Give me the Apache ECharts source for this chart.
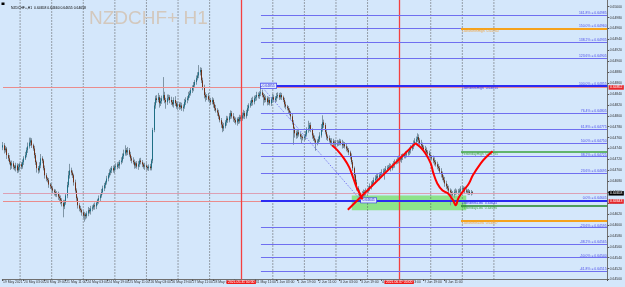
<!DOCTYPE html>
<html><head><meta charset="utf-8">
<script src="https://cdn.jsdelivr.net/npm/echarts/dist/echarts.min.js"></script>
<style>html,body{margin:0;padding:0;background:#d4e7fb;overflow:hidden}#c{width:625px;height:287px}</style>
</head><body><div id="c"></div>
<script>
// ---------------- DATA ----------------
const symbolTitle = 'NZDCHF+ H1';
const quoteHeader = 'NZDCHF+,H1  0.64658 0.64660 0.64655 0.64658';
const tradingDays = ['2021.05.19','2021.05.20','2021.05.21','2021.05.24','2021.05.25','2021.05.26','2021.05.27','2021.05.28',
  '2021.05.31','2021.06.01','2021.06.02','2021.06.03','2021.06.04','2021.06.07','2021.06.08','2021.06.09','2021.06.10',
  '2021.06.11','2021.06.14','2021.06.15'];
const firstHour = 11;
const monthNames = {'05':'May','06':'Jun'};
const priceBase = 0.64;           // closes are given in points (0.00001) above this base
const firstOpen = 0.64742;
const closePts = [
 746,737,740,728,722,715,709,713, 707,704,709,700,706,711,707, 715,722,728,737,744,751,755,746,
 740,728,715,704,700,709,722, 718,704,691,685,682,674,671,667, 663,660,656,658,652,649,645,
 640,634,641,654,673,691,700,696, 691,678,663,649,636,630,627,623, 617,619,616,621,627,625,630,
 632,636,634,640,645,649,654,660, 667,673,678,685,691,696,700, 704,700,707,706,711,709,715,718,
 726,731,737,733,737,729,722, 718,715,709,713,707,711,718,715, 711,707,709,706,704,707,704,
 718,774,819, 832,829,834,823,827, 832,838,829,825,832,834,829, 825,821,829,823,817,821,816,819,
 814,817,825,829,832,838,841, 847,851,856,862,869,874,880,884, 865,851,838,834,836,830,829,
 825,829,821,814,810,806,799,792, 784,777,781,788,795,792,799, 805,799,795,792,788,794,790,797,
 795,801,805,799,806,814,819, 823,829,825,832,834,838,836,841, 843,838,834,829,832,825,829,
 823,830,834,829,832,836,838,834, 838,834,829,821,817,814,810, 806,799,788,777,768,764,770,766,
 762,761,759,762,766,774,777, 783,774,764,759,755,751,753,757, 764,777,788,783,770,762,759,
 755,751,753,750,751,748,750,751, 753,750,746,748,744,740,737, 733,726,715,704,691,678,667,660,
 654,652,656,660,658,661,663, 667,671,674,678,682,685,689,687, 691,693,696,698,700,702,704,
 706,707,704,709,711,715,717,718, 722,720,724,726,728,729,731, 733,737,740,744,750,753,757,761,
 755,750,746,742,739,737,733, 731,728,724,722,718,715,711,707, 704,698,693,687,682,676,671,
 667,663,660,658,656,660,661,660, 661,663,665,667,665,663,661, 660,661,658,660,658
];
const wickUpPts = [
 6,4,5,3,4,6,3,5, 4,3,5,4,6,3,4, 5,4,6,5,7,9,5,4, 3,5,4,3,4,6,8, 4,3,5,4,3,4,3,5, 4,3,5,4,3,4,5,
 4,6,5,4,6,8,12,5, 4,3,5,4,3,4,5,3, 4,5,3,4,6,4,5, 4,3,5,4,3,5,4,6, 5,4,3,5,4,6,5, 4,5,3,6,4,5,4,6,
 5,7,9,4,6,4,5, 4,6,5,3,4,6,4,5, 4,3,5,4,3,4,5, 3,4,6, 5,6,8,4,6, 5,33,6,4,7,5,4, 6,4,5,7,4,5,4,6,
 5,4,6,5,4,6,5, 4,5,6,4,5,6,13,5, 4,5,6,5,4,6,5, 4,5,3,4,6,4,5,3, 4,5,6,4,5,4,6, 5,4,6,4,5,3,4,5,
 4,5,6,4,5,6,4, 5,4,6,5,4,6,5,4, 12,5,4,6,5,4,6, 5,4,6,5,4,6,5,4, 5,4,3,4,5,3,4, 4,3,5,4,3,5,4,6,
 4,5,3,4,6,5,14, 4,5,3,4,5,3,4,5, 6,8,13,5,4,5,4, 5,4,6,5,4,5,6,4, 5,4,6,5,4,5,4, 4,3,5,4,3,4,5,4,
 5,4,6,5,4,6,5, 4,5,6,4,5,6,4,5, 5,4,6,5,4,6,5, 4,6,5,4,6,5,4,6, 5,4,6,5,4,6,5, 4,5,6,4,5,6,5,7,
 5,4,6,5,4,6,5, 4,5,6,4,5,6,4,5, 5,4,6,5,4,6,5, 4,5,4,5,4,5,6,4, 5,4,6,5,4,5,4, 4,5,3,4,2
];
const wickDnPts = [
 5,6,4,7,5,4,8,6, 5,4,6,5,4,6,5, 4,5,3,4,5,4,6,5, 4,6,5,8,6,4,5, 5,4,6,5,4,6,5,4, 5,6,4,5,6,5,7,
 6,20,5,4,5,4,6,5, 5,6,4,5,6,5,4,6, 5,11,6,4,5,4,6, 5,4,6,5,4,6,5,4, 4,5,6,4,5,4,5, 5,4,6,5,4,5,6,4,
 4,5,4,6,5,4,5, 5,4,6,5,4,6,5,4, 5,4,6,5,4,5,4, 4,5,4, 6,5,4,8,5, 5,4,6,12,5,4,6, 5,4,6,5,4,6,5,4,
 5,6,4,5,6,4,5, 4,5,6,4,5,4,5,6, 5,4,6,8,5,4,6, 5,4,6,5,4,6,5,4, 6,7,5,4,6,5,4, 5,4,6,5,4,6,5,4,
 5,4,6,5,4,6,5, 4,5,6,4,5,6,4,5, 5,4,15,5,4,6,5, 4,5,6,4,5,6,4,5, 4,5,4,6,5,4,6, 5,6,4,30,8,6,5,4,
 5,12,4,5,6,4,5, 5,4,6,5,4,15,5,4, 5,4,6,5,4,6,5, 4,5,6,4,5,6,4,5, 5,4,6,5,4,5,4, 5,6,4,5,6,5,4,6,
 5,7,4,5,6,4,5, 4,5,6,4,5,6,4,5, 5,4,6,5,15,6,5, 4,5,6,4,5,6,4,5, 5,4,6,5,4,6,5, 4,5,6,4,5,6,4,5,
 5,4,6,5,4,6,5, 4,5,6,4,5,6,4,5, 5,4,6,5,4,6,5, 4,6,24,5,4,6,5,4, 5,4,6,5,4,5,4, 4,5,3,4,2
];
// Fibonacci retracement (anchors: bar index + price)
const fibHighBar = 196, fibHigh = 0.64855;
const fibLowBar = 272, fibLow = 0.64645;
const fibLevels = [1.618, 1.5, 1.382, 1.236, 1, 0.764, 0.618, 0.5, 0.382, 0.236, 0, -0.236, -0.382, -0.5, -0.618];
// named levels drawn from 9 Jun
const objNames = ['LastMonthHigh','LastWeekHigh','YesterdayHigh','LastWeekLow','YesterdayLow','LastMonthLow'];
const objValues = [0.64960, 0.64855, 0.64735, 0.64645, 0.64636, 0.64607];
const objStartBar = 348;
// horizontal price lines with axis tags
const hLineValues = [0.64852, 0.64643];
const bidPrice = 0.64658;
// vertical lines
const vLineTimes = ['2021.05.31 00:00', '2021.06.07 00:00'];
// zone rectangle [bar, price]
const zoneStart = [265, 0.64654], zoneEnd = [352, 0.64627];
// hand drawn red lines [bar, price]
const redCurveA = [[250,0.64746],[254,0.64737],[259,0.64722],[263,0.64706],[266,0.64687],[269,0.64667],[271,0.64658],[273,0.64647]];
const redLineB = [[262,0.64628],[313,0.64749]];
const redCurveC = [[313,0.64750],[317,0.64743],[321,0.64731],[325,0.64713],[327,0.64695],[330,0.64676],[334,0.64663],[338,0.64658],[342,0.64645],[344,0.64636],[346,0.64649],[350,0.64663],[354,0.64676],[357,0.64691],[363,0.64713],[367,0.64724],[372,0.64735]];

// ---------------- BUILD ----------------
const TOTAL = 460;
const Y_MIN = 0.6450, Y_MAX = 0.650123;
const cats = [];
for (let d = 0; d < tradingDays.length && cats.length < TOTAL; d++) {
  for (let h = (d === 0 ? firstHour : 0); h < 24 && cats.length < TOTAL; h++) {
    cats.push(tradingDays[d] + ' ' + String(h).padStart(2,'0') + ':00');
  }
}
const close = closePts.map(p => +(priceBase + p / 1e5).toFixed(5));
const open = close.map((c, i) => i ? close[i - 1] : firstOpen);
const high = close.map((c, i) => +(Math.max(open[i], c) + wickUpPts[i] / 1e5).toFixed(5));
const low = close.map((c, i) => +(Math.min(open[i], c) - wickDnPts[i] / 1e5).toFixed(5));
const wickData = close.map((c, i) => [open[i], c, low[i], high[i]]);
const bodyData = close.map((c, i) => [open[i], c, Math.min(open[i], c), Math.max(open[i], c)]);

const FONT = 'Liberation Sans';
const TINY = 3.4;
const firstCat = cats[0], lastCat = cats[TOTAL - 1];

// day separators (skip those covered by red vertical lines)
const sepDays = cats.map((c, i) => i).filter(i => cats[i].endsWith(' 00:00') && i > 0 && i <= 373 && vLineTimes.indexOf(cats[i]) < 0);
const sepData = sepDays.map(i => [[i, Y_MIN], [i, Y_MAX]]);

// fib lines
const fibLines = fibLevels.map(L => {
  const v = +(fibLow + L * (fibHigh - fibLow)).toFixed(5);
  const strong = (L === 1 || L === 0);
  const ls = { color: strong ? '#2b2bf2' : '#6f6ff0', width: strong ? 1.8 : 1, type: 'solid' };
  const lb = { show: true, position: 'insideEndTop', distance: 0.5, formatter: (L * 100).toFixed(1) + '% = ' + v.toFixed(5),
    color: '#4b4bea', fontSize: TINY, fontFamily: FONT };
  return [{ coord: [cats[fibHighBar], v], lineStyle: ls, label: lb }, { coord: [lastCat, v], lineStyle: ls, label: lb }];
});

// named object lines
const objColors = ['#f5a21c', '#2b2bf2', '#3ca43c', '#2b2bf2', '#23862a', '#f5a21c'];
const objTextColors = ['#f0a848', '#3434e6', '#46a846', '#3434e6', '#46a846', '#f0a848'];
const objWidths = [2, 1.8, 1.5, 1.8, 1.5, 2];
const objLines = objNames.map((n, i) => {
  const ls = { color: objColors[i], width: objWidths[i], type: 'solid' };
  const lb = { show: true, position: 'insideStartBottom', distance: 0.8, formatter: n + '  ' + objValues[i].toFixed(5),
    color: objTextColors[i], fontSize: TINY, fontFamily: FONT };
  return [{ coord: [cats[objStartBar], objValues[i]], lineStyle: ls, label: lb }, { coord: [lastCat, objValues[i]], lineStyle: ls, label: lb }];
});

const tagLabel = (bg, v) => ({ show: true, position: 'end', distance: 1.5, formatter: v.toFixed(5),
  backgroundColor: bg, color: '#fff', fontSize: TINY, fontFamily: FONT, padding: [1, 1.5, 0.5, 1.5] });
const hPair = (v, bg) => {
  const lb = tagLabel(bg, v);
  return [{ coord: [firstCat, v], label: lb }, { coord: [lastCat, v], label: lb }];
};

const vTag = t => ({ show: true, position: 'start', distance: 1, formatter: t, backgroundColor: '#f01c1c', color: '#fff',
  fontSize: TINY, fontFamily: FONT, padding: [0.5, 1.5, 0, 1.5] });

const chart = echarts.init(document.getElementById('c'), null, { renderer: 'canvas' });
chart.setOption({
  animation: false,
  backgroundColor: '#d4e7fb',
  title: [
    { text: quoteHeader, left: 6, top: 1.5, textStyle: { fontSize: TINY, color: '#000', fontWeight: 'normal', fontFamily: FONT } },
    { text: symbolTitle, left: 84, top: 4, textStyle: { fontSize: 19, color: '#d3c8bd', fontWeight: 'normal', fontFamily: FONT } }
  ],
  graphic: [{ type: 'rect', left: 1.5, top: 2.5, shape: { width: 3, height: 2.5 }, style: { fill: '#000' } }],
  grid: { left: 0, right: 17, top: 0, bottom: 7.5, containLabel: false },
  xAxis: {
    type: 'category', data: cats, boundaryGap: true,
    axisLine: { show: true, lineStyle: { color: '#6f6f6f', width: 1 } },
    axisTick: { show: true, length: 1.5, interval: i => i % 16 === 0 && i <= 340, lineStyle: { color: '#555' } },
    axisLabel: {
      show: true, interval: i => i % 16 === 0 && i <= 340, align: 'left', margin: 1.5,
      fontSize: TINY, color: '#333', fontFamily: FONT,
      formatter: (v, idx) => {
        const day = parseInt(v.slice(8, 10), 10), mon = monthNames[v.slice(5, 7)];
        return idx === 0 ? day + ' ' + mon + ' ' + v.slice(0, 4) : day + ' ' + mon + ' ' + v.slice(11);
      }
    },
    splitLine: { show: false }
  },
  yAxis: {
    type: 'value', position: 'right', scale: true, min: Y_MIN, max: Y_MAX, interval: 0.0002,
    axisLine: { show: true, lineStyle: { color: '#6f6f6f', width: 1 } },
    axisTick: { show: true, length: 1.5, lineStyle: { color: '#555' } },
    axisLabel: { fontSize: TINY, color: '#333', margin: 2, fontFamily: FONT, showMaxLabel: false, formatter: v => v.toFixed(5) },
    splitLine: { show: false }
  },
  series: [
    // day separators as plain dotted line segments
    ...sepData.map(d => ({ type: 'line', data: d, z: 1, symbol: 'none', silent: true,
      lineStyle: { color: '#555555', width: 1, type: [1, 2] } })),
    // pink horizontal lines + price tags
    { type: 'line', name: 'hlines', data: [], z: 1, silent: true, color: '#ea8c8c',
      markLine: { silent: true, symbol: ['none', 'none'], animation: false,
        lineStyle: { color: '#ea8c8c', width: 1.1, type: 'solid' },
        data: hLineValues.map(v => hPair(v, '#e8262a')) } },
    { type: 'line', name: 'bid', data: [], z: 1, silent: true, color: '#dca0b4',
      markLine: { silent: true, symbol: ['none', 'none'], animation: false,
        lineStyle: { color: '#dca0b4', width: 1.1, type: 'solid' },
        data: [hPair(bidPrice, '#000000')] } },
    // red vertical lines
    { type: 'line', name: 'vlines', data: [], z: 2, silent: true, color: '#f44040',
      markLine: { silent: true, symbol: ['none', 'none'], animation: false,
        lineStyle: { color: '#f44040', width: 1.3, type: 'solid' },
        data: vLineTimes.map(t => [{ coord: [t, Y_MIN], label: vTag(t) }, { coord: [t, Y_MAX], label: vTag(t) }]) } },
    { type: 'line', name: 'objects', data: [], z: 2, silent: true,
      markLine: { silent: true, symbol: ['none', 'none'], animation: false, label: { show: false },
        data: [...fibLines, ...objLines] },
      markArea: { silent: true, itemStyle: { color: 'rgba(128,226,118,0.85)' },
        data: [[{ coord: [cats[zoneStart[0]], zoneStart[1]] }, { coord: [cats[zoneEnd[0]], zoneEnd[1]] }]] }
    },
    { type: 'candlestick', name: 'range', data: wickData, z: 3, barWidth: 1.2, silent: true,
      itemStyle: { color: '#7f95a5', color0: '#7f95a5', borderColor: '#7f95a5', borderColor0: '#7f95a5', borderWidth: 1 } },
    { type: 'candlestick', name: 'body', data: bodyData, z: 4, barWidth: 1.2, silent: true,
      itemStyle: { color: '#1f6f85', color0: '#6e3018', borderColor: '#1f6f85', borderColor0: '#6e3018', borderWidth: 1 } },
    { type: 'line', name: 'fibDiag', data: [[fibHighBar, fibHigh], [fibLowBar, fibLow]], z: 5, symbol: 'none', silent: true,
      lineStyle: { color: '#7a7af0', width: 1, type: [1.5, 1.5] } },
    { type: 'line', name: 'drawA', data: redCurveA, z: 6, symbol: 'none', smooth: 0.4, silent: true, lineStyle: { color: '#ff0000', width: 2 } },
    { type: 'line', name: 'drawB', data: redLineB, z: 6, symbol: 'none', silent: true, lineStyle: { color: '#ff0000', width: 2 } },
    { type: 'line', name: 'drawC', data: redCurveC, z: 6, symbol: 'none', smooth: 0.4, silent: true, lineStyle: { color: '#ff0000', width: 2 } },
    { type: 'line', name: 'tags', data: [], z: 7, silent: true,
      markPoint: { symbol: 'rect', symbolSize: 0.01, silent: true, animation: false,
        label: { show: true, position: 'right', distance: 0, fontSize: TINY, fontFamily: FONT, color: '#2c2ce0',
          backgroundColor: '#dfe9fb', borderColor: '#3a3af0', borderWidth: 0.7, padding: [1, 1.5, 0.5, 1.5], formatter: p => p.value.toFixed(5) },
        data: [{ coord: [cats[fibHighBar], fibHigh], value: fibHigh }, { coord: [cats[fibLowBar], fibLow], value: fibLow }] } }
  ]
});
</script>
</body></html>
